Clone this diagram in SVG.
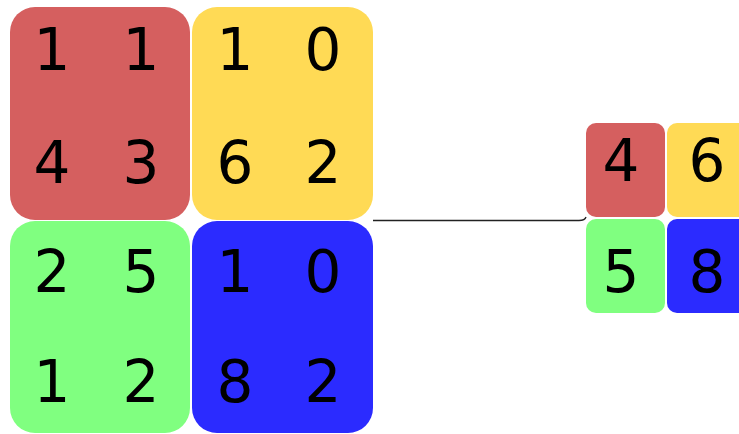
<svg xmlns="http://www.w3.org/2000/svg" width="739" height="434" viewBox="0 0 739 434">
<style>
text{font-family:"DejaVu Sans",Verdana,sans-serif;font-size:58px;fill:#000;text-anchor:middle}
.r{fill:#D55F5F}.y{fill:#FFDA55}.g{fill:#80FF80}.b{fill:#2B2BFF}
</style>
<rect width="739" height="434" fill="#fff"/>
<g id="connectors">
<path d="M373,220.5 H579 Q585,220.5 586,217" fill="none" stroke="#222" stroke-width="1.3"/>
</g>
<g id="in-red"><rect class="r" x="10" y="7" width="180" height="213" rx="25"/>
<text x="52" y="70">1</text><text x="141" y="70">1</text><text x="52" y="183">4</text><text x="141" y="183">3</text></g>
<g id="in-yellow"><rect class="y" x="192" y="7" width="181" height="213" rx="25"/>
<text x="235" y="70">1</text><text x="323" y="70">0</text><text x="235" y="183">6</text><text x="323" y="183">2</text></g>
<g id="in-green"><rect class="g" x="10" y="221" width="180" height="212" rx="25"/>
<text x="52" y="292">2</text><text x="141" y="292">5</text><text x="52" y="402">1</text><text x="141" y="402">2</text></g>
<g id="in-blue"><rect class="b" x="192" y="221" width="181" height="212" rx="25"/>
<text x="235" y="292">1</text><text x="323" y="292">0</text><text x="235" y="402">8</text><text x="323" y="402">2</text></g>
<g id="out-red"><rect class="r" x="586" y="123" width="79" height="94" rx="10"/><text x="621" y="181">4</text></g>
<g id="out-yellow"><rect class="y" x="667" y="123" width="90" height="94" rx="10"/><text x="707" y="181">6</text></g>
<g id="out-green"><rect class="g" x="586" y="219" width="79" height="94" rx="10"/><text x="621" y="292">5</text></g>
<g id="out-blue"><rect class="b" x="667" y="219" width="90" height="94" rx="10"/><text x="707" y="292">8</text></g>
</svg>
